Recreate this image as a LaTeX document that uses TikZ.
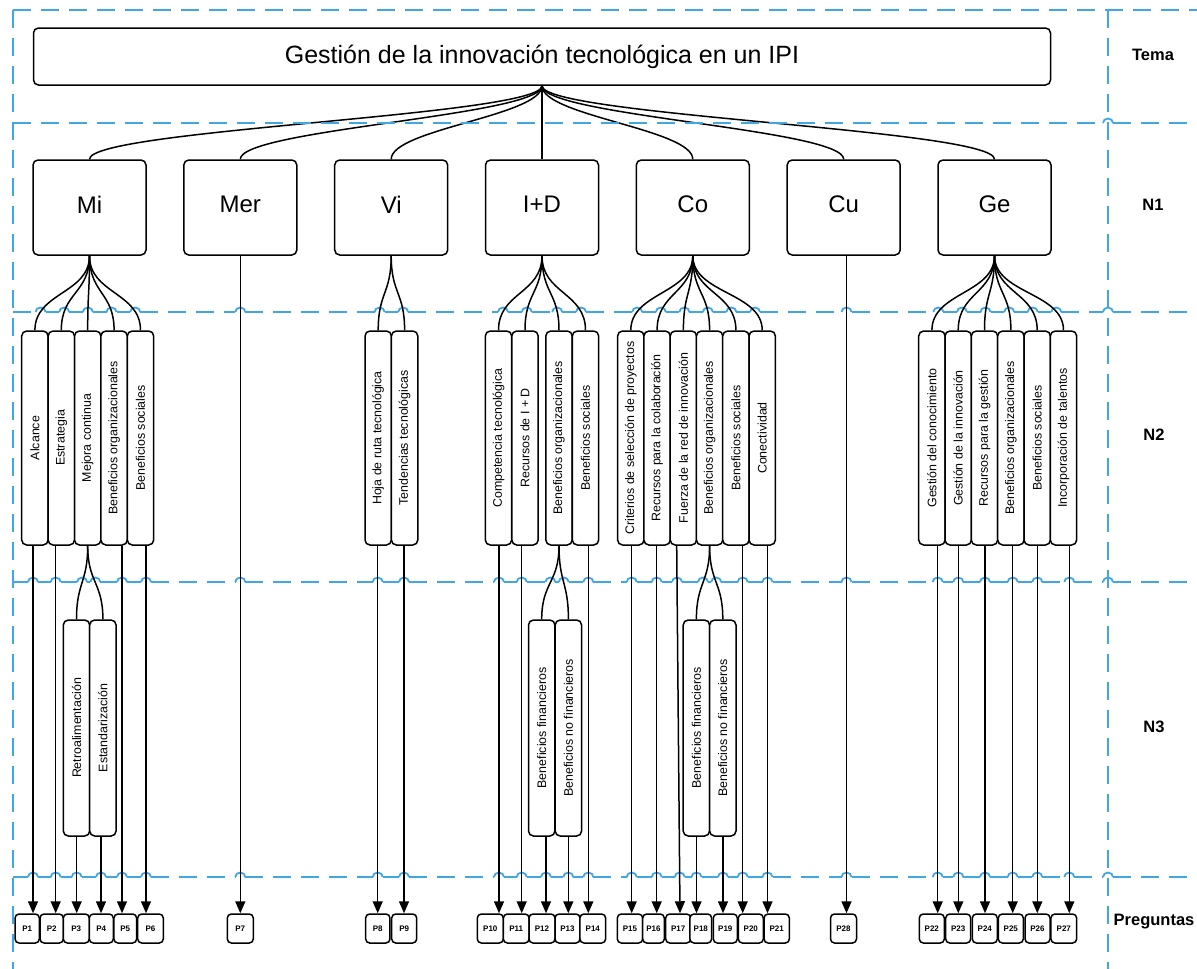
\documentclass[tikz,border=0pt]{standalone}
\usepackage{fontspec}
\usepackage{graphicx}
\setmainfont{Liberation Sans}
\usetikzlibrary{arrows.meta}
\definecolor{lblue}{RGB}{64,167,227}
\newcommand\hopline[2]{%
  \gdef\hpx{13}%
  \foreach \hx in {#2}{%
    \pgfmathsetmacro\ha{\hx-5}%
    \draw[dashl] (\hpx,#1) -- (\ha,#1);
    \draw[hop] (\ha,#1) arc[start angle=180,end angle=0,x radius=5pt,y radius=4.5pt];
    \pgfmathsetmacro\hb{\hx+5}%
    \xdef\hpx{\hb}%
  }%
  \draw[dashl] (\hpx,#1) -- (1197,#1);
}
\begin{document}
\begin{tikzpicture}[x=1pt,y=-1pt,
  box/.style={draw=black,line width=1.5pt,rounded corners=5pt,fill=white,inner sep=0pt},
  nbox/.style={box,minimum width=113pt,minimum height=95pt,text depth=6pt,font=\fontsize{24}{28}\selectfont},
  vbox/.style={box,minimum width=26.4pt,minimum height=214pt,font=\fontsize{12.4}{14}\selectfont},
  tbox/.style={box,minimum width=26.4pt,minimum height=216pt,font=\fontsize{12.4}{14}\selectfont},
  pbox/.style={box,rounded corners=4pt,minimum height=29pt,font=\fontsize{8}{9}\selectfont\bfseries},
  con/.style={line width=1.5pt},
  arr/.style={line width=1.5pt,-{Triangle[width=10pt,length=12pt]}},
  dashl/.style={draw=lblue,line width=1.8pt,dash pattern=on 18pt off 10pt},
  hop/.style={draw=lblue,line width=1.8pt},
  side/.style={font=\fontsize{16.5}{20}\selectfont\bfseries}
]
\fill[white] (0,0) rectangle (1197,969);
\useasboundingbox (0,0) rectangle (1197,969);

% frame lines
\draw[dashl] (13,10) -- (1197,10);
\draw[dashl] (13,10) -- (13,969);
\draw[dashl] (1108,10) -- (1108,969);
\hopline{312}{40.6,64.2,87.9,111.5,135.2,240.3,379.6,403.2,503.0,526.8,557.2,581.0,637.2,660.8,684.4,707.9,731.4,755.0,846.5,938.4,962.0,985.5,1009.2,1032.7,1056.3,1108}
\hopline{582}{33,55.7,82.1,95.3,122,146,240.3,377.7,404,499,521.7,550.4,563.7,588.3,631.7,656.7,677,703.0,716.2,742.7,767.5,846.5,937.7,958.3,985,1012.7,1037.3,1069.3,1108}
\hopline{877}{33,55.7,76.7,101,122,146,240.3,377.7,404,499,521.7,546,568.3,588.3,631.7,656.7,679.7,696.5,723,742.7,767.5,846.5,937.7,958.3,985,1012.7,1037.3,1069.3,1108}

% title
\node[box,minimum width=1017pt,minimum height=57pt,font=\fontsize{25}{30}\selectfont] (title) at (542,56.5) {Gestión de la innovación tecnológica en un IPI};

% N1
\node[nbox] (mi) at (89.5,207.5) {Mi};
\node[nbox] (mer) at (240.3,207.5) {Mer};
\node[nbox] (vi) at (391.2,207.5) {Vi};
\node[nbox] (id) at (542,207.5) {I+D};
\node[nbox] (co) at (692.8,207.5) {Co};
\node[nbox] (cu) at (843.7,207.5) {Cu};
\node[nbox] (ge) at (994.5,207.5) {Ge};

\foreach \n in {mi,mer,vi,id,co,cu,ge}
  \draw[con] (title.south) .. controls +(0,30) and +(0,-30) .. (\n.north);

\hopline{123}{1108}

% N2
\node[vbox] (alc) at (34.9,438) {\rotatebox{90}{Alcance}};
\node[vbox] (est) at (61.3,438) {\rotatebox{90}{Estrategia}};
\node[vbox] (mej) at (87.7,438) {\rotatebox{90}{Mejora continua}};
\node[vbox] (bomi) at (114.1,438) {\rotatebox{90}{Beneficios organizacionales}};
\node[vbox] (bsmi) at (140.5,438) {\rotatebox{90}{Beneficios sociales}};
\node[vbox] (hoja) at (378.2,438) {\rotatebox{90}{Hoja de ruta tecnológica}};
\node[vbox] (tend) at (404.6,438) {\rotatebox{90}{Tendencias tecnológicas}};
\node[vbox] (comp) at (498.5,438) {\rotatebox{90}{Competencia tecnológica}};
\node[vbox] (rid) at (525,438) {\rotatebox{90}{Recursos de I + D}};
\node[vbox] (boid) at (559,438) {\rotatebox{90}{Beneficios organizacionales}};
\node[vbox] (bsid) at (585.5,438) {\rotatebox{90}{Beneficios sociales}};
\node[vbox] (crit) at (630.8,438) {\rotatebox{90}{Criterios de selección de proyectos}};
\node[vbox] (rcol) at (657.1,438) {\rotatebox{90}{Recursos para la colaboración}};
\node[vbox] (fue) at (683.4,438) {\rotatebox{90}{Fuerza de la red de innovación}};
\node[vbox] (boco) at (709.6,438) {\rotatebox{90}{Beneficios organizacionales}};
\node[vbox] (bsco) at (735.9,438) {\rotatebox{90}{Beneficios sociales}};
\node[vbox] (cone) at (762.2,438) {\rotatebox{90}{Conectividad}};
\node[vbox] (gcon) at (931.9,438) {\rotatebox{90}{Gestión del conocimiento}};
\node[vbox] (ginn) at (958.2,438) {\rotatebox{90}{Gestión de la innovación}};
\node[vbox] (rges) at (984.5,438) {\rotatebox{90}{Recursos para la gestión}};
\node[vbox] (boge) at (1010.9,438) {\rotatebox{90}{Beneficios organizacionales}};
\node[vbox] (bsge) at (1037.2,438) {\rotatebox{90}{Beneficios sociales}};
\node[vbox] (inc) at (1063.5,438) {\rotatebox{90}{Incorporación de talentos}};

\foreach \s/\t in {mi/alc,mi/est,mi/mej,mi/bomi,mi/bsmi,vi/hoja,vi/tend,
  id/comp,id/rid,id/boid,id/bsid,co/crit,co/rcol,co/fue,co/boco,co/bsco,co/cone,
  ge/gcon,ge/ginn,ge/rges,ge/boge,ge/bsge,ge/inc}
  \draw[con] (\s.south) .. controls +(0,38) and +(0,-38) .. (\t.north);

% N3
\node[tbox] (retro) at (76.5,728) {\rotatebox{90}{Retroalimentación}};
\node[tbox] (estd) at (102.9,728) {\rotatebox{90}{Estandarización}};
\node[tbox] (bfid) at (541.7,728) {\rotatebox{90}{Beneficios financieros}};
\node[tbox] (bnid) at (568.4,728) {\rotatebox{90}{Beneficios no financieros}};
\node[tbox] (bfco) at (696.4,728) {\rotatebox{90}{Beneficios financieros}};
\node[tbox] (bnco) at (722.8,728) {\rotatebox{90}{Beneficios no financieros}};

\foreach \s/\t in {mej/retro,mej/estd,boid/bfid,boid/bnid,boco/bfco,boco/bnco}
  \draw[con] (\s.south) .. controls +(0,37) and +(0,-37) .. (\t.north);

% Preguntas
\foreach \p/\xx/\w in {1/27.2/24.3,2/51.7/23.3,3/76.3/26,4/101.3/24,5/125.3/22.7,6/150.5/25.6,
  7/240.3/26,8/377.8/24.3,9/404.2/25,10/490.3/26,11/516.2/25.7,12/542/26,13/567.5/25,14/592.8/25.7,
  15/630/25.4,16/653.5/21.6,17/678.2/25,18/700.8/21.7,19/725.3/24,20/750.8/25,21/776.7/25.3,
  28/843.5/26,22/931.8/25,23/958.2/25,24/984.8/25,25/1010.8/25,26/1037.5/25,27/1063.8/25.7}
  \node[pbox,minimum width=\w pt] (p\p) at (\xx,928.5) {P\p};

\foreach \s/\p/\xx in {alc/p1/33,est/p2/55.7,retro/p3/76.7,estd/p4/101,bomi/p5/122,bsmi/p6/146,
  mer/p7/240.3,hoja/p8/377.7,tend/p9/404,comp/p10/499,rid/p11/521.7,bfid/p12/546,bnid/p13/568.3,
  bsid/p14/588.3,crit/p15/631.7,rcol/p16/656.7,bfco/p18/696.5,bnco/p19/723,bsco/p20/742.7,
  cone/p21/767.5,cu/p28/846.5,gcon/p22/937.7,ginn/p23/958.3,rges/p24/985,boge/p25/1012.7,
  bsge/p26/1037.3,inc/p27/1069.3}
  \draw[arr] (\s.south -| \xx,0) -- (\p.north -| \xx,0);
\draw[arr] (fue.south -| 676.7,0) -- (p17.north -| 680,0);

% side labels
\node[side] (tema) at (1153,55) {Tema};
\node[side] (ln1) at (1153,205) {N1};
\node[side] (ln2) at (1154,435) {N2};
\node[side] (ln3) at (1154,727) {N3};
\node[side] (lpr) at (1154,922) {Preguntas};
\end{tikzpicture}
\end{document}
